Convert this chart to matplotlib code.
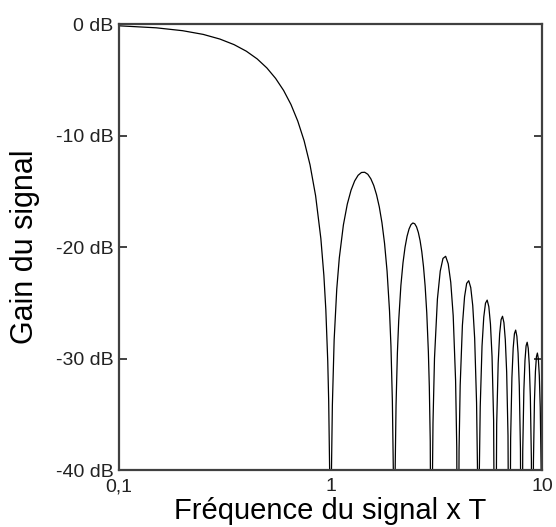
import numpy as np
import matplotlib
matplotlib.use('Agg')
import matplotlib.pyplot as plt

plt.rcParams['font.family'] = ['Liberation Sans', 'DejaVu Sans']

# frequency x T (log scale) and gain in dB
# (nulls at integer frequencies run off the bottom of the chart)
freq = [0.1, 0.15, 0.2, 0.25, 0.3, 0.35, 0.4, 0.45, 0.5, 0.55, 0.6, 0.65,
        0.7, 0.75, 0.8, 0.85, 0.9, 0.93, 0.95, 0.97, 0.98, 0.99, 1.0,
        1.01, 1.02, 1.04, 1.07, 1.1, 1.15, 1.2, 1.25, 1.3, 1.35, 1.4, 1.45,
        1.5, 1.55, 1.6, 1.65, 1.7, 1.75, 1.8, 1.85, 1.9, 1.93, 1.96, 1.98, 2.0,
        2.01, 2.02, 2.04, 2.07, 2.1, 2.15, 2.2, 2.25, 2.3, 2.35, 2.4, 2.45,
        2.5, 2.55, 2.6, 2.65, 2.7, 2.75, 2.8, 2.85, 2.9, 2.93, 2.96, 3.0,
        3.02, 3.05, 3.1, 3.2, 3.3, 3.4, 3.5, 3.6, 3.7, 3.8, 3.9, 3.95, 4.0,
        4.05, 4.1, 4.2, 4.3, 4.4, 4.5, 4.6, 4.7, 4.8, 4.9, 4.95, 5.0,
        5.05, 5.1, 5.2, 5.3, 5.4, 5.5, 5.6, 5.7, 5.8, 5.9, 6.0,
        6.1, 6.2, 6.3, 6.4, 6.5, 6.6, 6.7, 6.8, 6.9, 7.0,
        7.1, 7.2, 7.3, 7.4, 7.5, 7.6, 7.7, 7.8, 7.9, 8.0,
        8.1, 8.2, 8.3, 8.4, 8.5, 8.6, 8.7, 8.8, 8.9, 9.0,
        9.1, 9.2, 9.3, 9.4, 9.5, 9.6, 9.7, 9.8, 9.9, 10.0]
gain = [-0.14, -0.32, -0.58, -0.91, -1.33, -1.83, -2.42, -3.11, -3.92, -4.86,
        -5.94, -7.2, -8.69, -10.45, -12.62, -15.39, -19.23, -22.54, -25.61,
        -30.21, -33.8, -39.9, -60,
        -40.1, -34.2, -28.32, -23.76, -20.97, -18.01, -16.14, -14.89, -14.06,
        -13.55, -13.3, -13.28, -13.46, -13.86, -14.46, -15.3, -16.39, -17.81,
        -19.66, -22.15, -25.72, -28.88, -33.83, -39.9, -60,
        -46.0, -40.1, -34.18, -29.49, -26.59, -23.45, -21.41, -20.0, -19.02,
        -18.37, -17.98, -17.83, -17.9, -18.18, -18.68, -19.41, -20.41, -21.74,
        -23.5, -25.9, -29.39, -32.51, -37.41, -60,
        -43.6, -35.75, -29.97, -24.66, -22.15, -21.01, -20.82, -21.5, -23.15,
        -26.15, -31.96, -37.99, -60,
        -38.2, -32.4, -27.02, -24.45, -23.25, -23.01, -23.63, -25.23, -28.18,
        -33.95, -39.95, -60,
        -40.1, -34.3, -28.88, -26.27, -25.03, -24.75, -25.34, -26.9, -29.83,
        -35.56, -60,
        -35.85, -30.41, -27.77, -26.5, -26.2, -26.77, -28.31, -31.21, -36.92, -60,
        -37.17, -31.7, -29.05, -27.76, -27.44, -28.0, -29.51, -32.4, -38.1, -60,
        -38.31, -32.83, -30.16, -28.86, -28.53, -29.07, -30.57, -33.45, -39.13, -60,
        -39.32, -33.83, -31.15, -29.84, -29.5, -30.02, -31.52, -34.38, -40.05, -60]

x_ticks = [0.1, 1, 10]
x_labels = ['0,1', '1', '10']
y_ticks = [0, -10, -20, -30, -40]
y_labels = ['0 dB', '-10 dB', '-20 dB', '-30 dB', '-40 dB']

fig = plt.figure(figsize=(5.56, 5.27), dpi=100)
ax = fig.add_axes([0.214, 0.108, 0.761, 0.846])
ax.plot(freq, gain, color='black', lw=0.9)
ax.set_xscale('log')
ax.set_xlim(0.1, 10)
ax.set_ylim(-40, 0)

ax.set_xticks(x_ticks)
ax.set_xticklabels(x_labels)
ax.xaxis.set_minor_locator(matplotlib.ticker.NullLocator())
ax.set_yticks(y_ticks)
ax.set_yticklabels(y_labels)
ax.tick_params(axis='x', length=0, pad=6, labelsize=14, colors='#222222')
ax.tick_params(axis='y', direction='in', length=6, width=1.3, left=True,
               right=True, pad=4, labelsize=14, colors='#222222', color='#333333')
for s in ax.spines.values():
    s.set_color('#404040')
    s.set_linewidth(1.6)

ax.set_xlabel('Fréquence du signal x T', fontsize=21, labelpad=1)
ax.set_ylabel('Gain du signal', fontsize=22, labelpad=11)

plt.savefig('out.png', dpi=100)
